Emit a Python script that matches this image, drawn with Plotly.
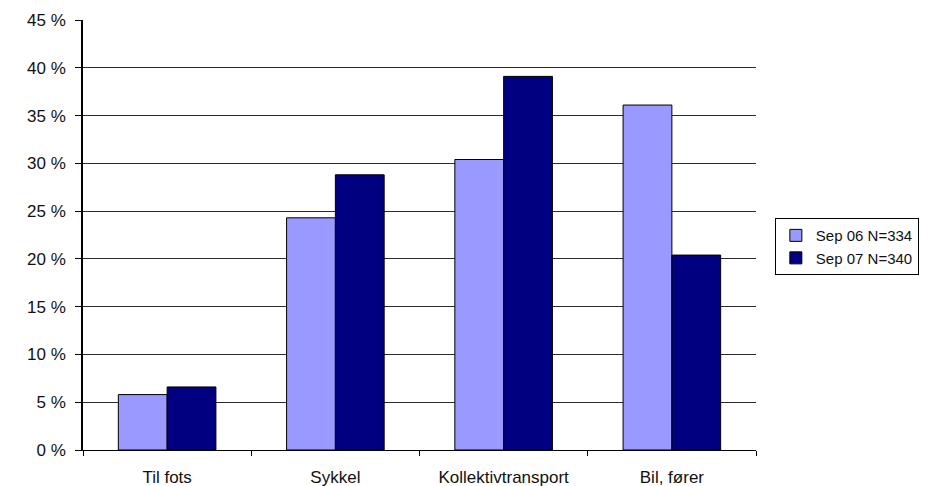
import plotly.graph_objects as go

categories = ["Til fots", "Sykkel", "Kollektivtransport", "Bil, fører"]
sep06 = [5.8, 24.3, 30.4, 36.1]
sep07 = [6.6, 28.8, 39.1, 20.4]
series_names = ["Sep 06 N=334", "Sep 07 N=340"]
y_ticks = [0, 5, 10, 15, 20, 25, 30, 35, 40, 45]
y_tick_text = [f"{v} %" for v in y_ticks]

FONT = "Liberation Sans, Arial, sans-serif"
TEXT = "#111111"

fig = go.Figure()
fig.add_trace(go.Bar(
    x=categories, y=sep06, name=series_names[0],
    marker=dict(color="#9999FF", line=dict(color="#000000", width=1)),
))
fig.add_trace(go.Bar(
    x=categories, y=sep07, name=series_names[1],
    marker=dict(color="#000080", line=dict(color="#000000", width=1)),
))

fig.update_layout(
    width=948, height=486,
    margin=dict(l=83, r=192, t=20, b=36),
    paper_bgcolor="white", plot_bgcolor="white",
    barmode="group", bargap=0.42, bargroupgap=0,
    font=dict(family=FONT, size=17, color=TEXT),
    legend=dict(
        x=1.028, y=0.473, xanchor="left", yanchor="middle",
        bordercolor="#000000", borderwidth=1,
        font=dict(family=FONT, size=15, color=TEXT), tracegroupgap=0,
    ),
    showlegend=True,
)
fig.update_xaxes(
    automargin=False,
    showline=True, linecolor="#000000", linewidth=1,
    ticks="outside", tickson="boundaries", ticklen=5, tickcolor="#000000",
    tickfont=dict(family=FONT, size=17, color=TEXT),
    ticklabelstandoff=12,
    showgrid=False,
)
fig.update_yaxes(
    automargin=False,
    range=[0, 45], tickvals=y_ticks, ticktext=y_tick_text,
    showline=True, linecolor="#000000", linewidth=1.5,
    ticks="outside", ticklen=6, tickcolor="#000000",
    tickfont=dict(family=FONT, size=17, color=TEXT),
    ticklabelstandoff=6,
    showgrid=True, gridcolor="#2b2b2b", gridwidth=1.4,
    zeroline=False,
)

fig.write_html("out.html")
